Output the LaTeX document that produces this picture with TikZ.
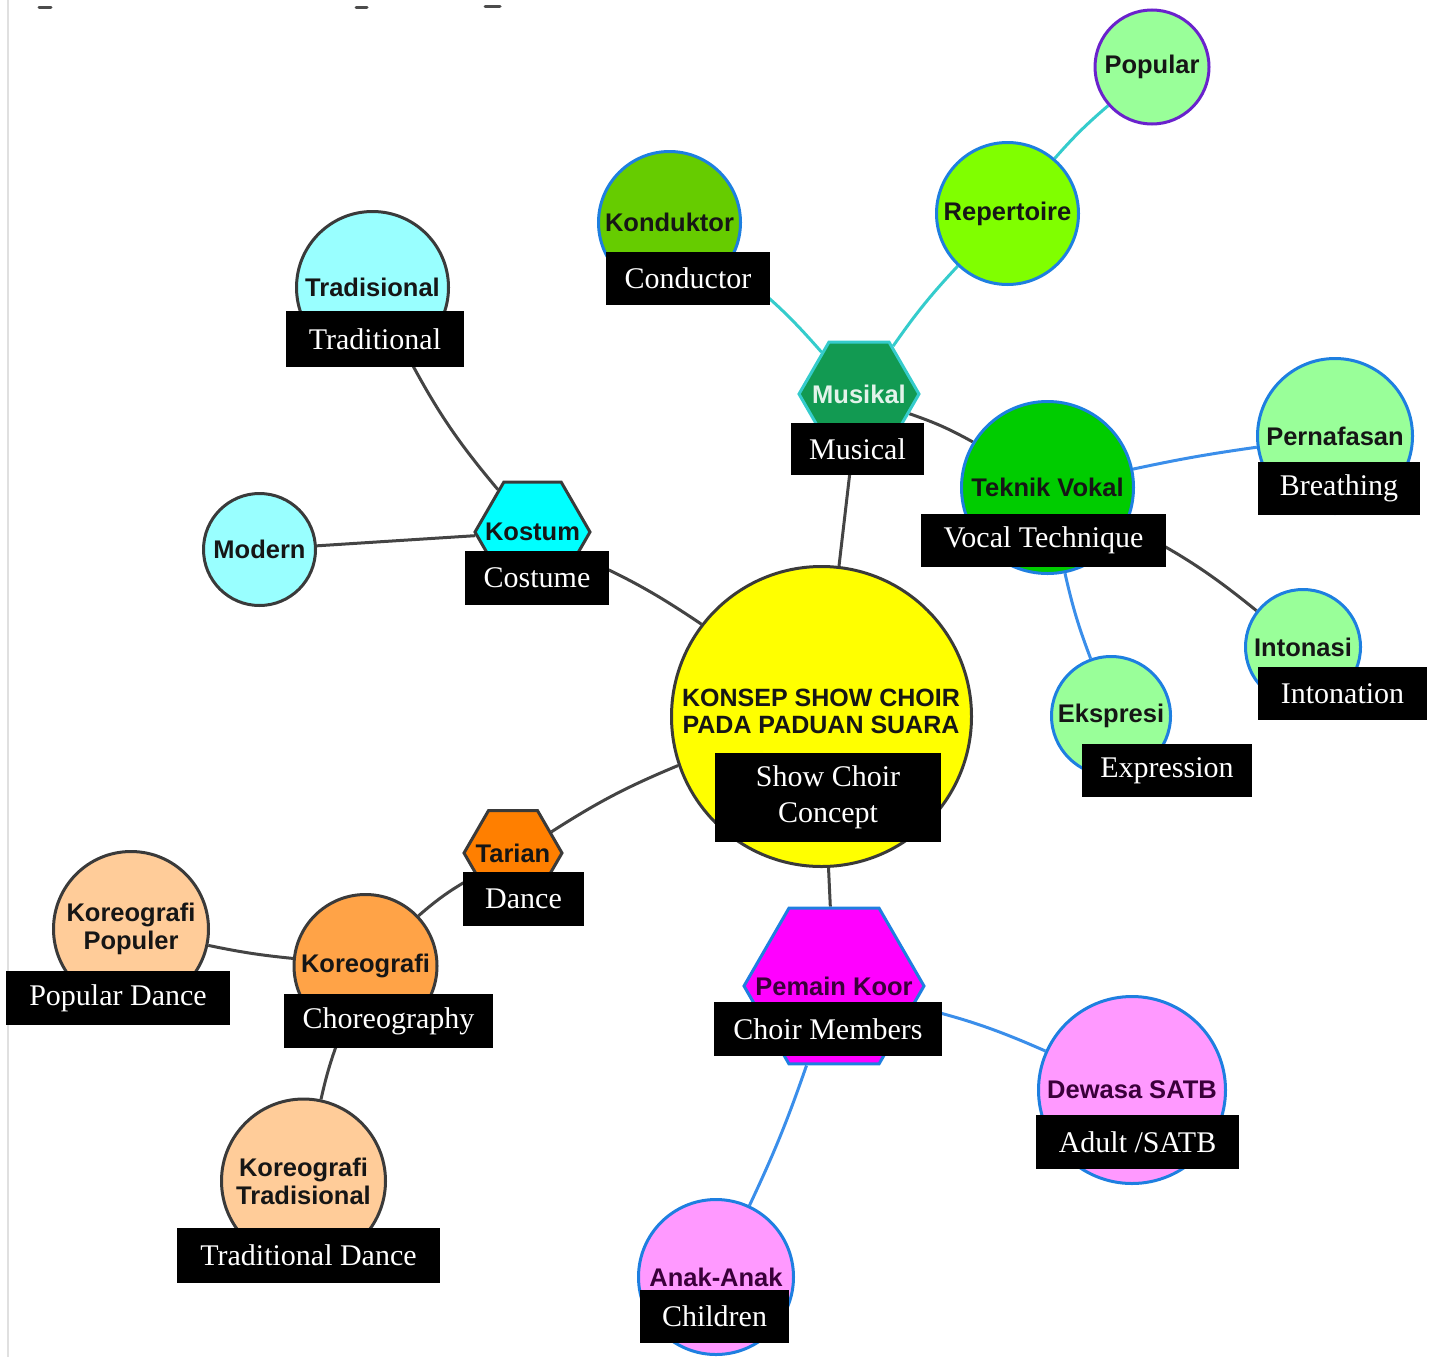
\documentclass[tikz,border=0pt]{standalone}
\usepackage{fontspec}
\setmainfont{Liberation Serif}
\newfontfamily\nodefont{Liberation Sans}
\usetikzlibrary{shapes.geometric,backgrounds}
\definecolor{txtdark}{HTML}{161616}
\definecolor{linegray}{HTML}{444444}
\definecolor{lineteal}{HTML}{35CCCC}
\definecolor{lineblue}{HTML}{3A8EEA}
\definecolor{bordgray}{HTML}{3A3A3A}
\definecolor{bordblue}{HTML}{1E7FE0}
\definecolor{bordpurple}{HTML}{6A22CC}
\definecolor{cyellow}{HTML}{FFFF00}
\definecolor{cmusikal}{HTML}{129A52}
\definecolor{ckond}{HTML}{66CC00}
\definecolor{crep}{HTML}{80FF00}
\definecolor{clgreen}{HTML}{99FF99}
\definecolor{cvokal}{HTML}{00CC00}
\definecolor{ccyan}{HTML}{00FFFF}
\definecolor{clcyan}{HTML}{99FFFF}
\definecolor{corange}{HTML}{FF7F00}
\definecolor{corange2}{HTML}{FFA347}
\definecolor{cpeach}{HTML}{FFCC99}
\definecolor{cmagenta}{HTML}{FF00FF}
\definecolor{cpink}{HTML}{FF99FF}
\definecolor{txtmag}{HTML}{3A003A}
\tikzset{
  bub/.style={circle, line width=3pt, inner sep=0pt, text=txtdark, align=center,
    font=\nodefont\bfseries\fontsize{25.5}{28}\selectfont},
  hexa/.style={regular polygon, regular polygon sides=6, line width=3pt, inner sep=0pt},
  hextext/.style={inner sep=0pt, text=txtdark, align=center,
    font=\nodefont\bfseries\fontsize{25.5}{28}\selectfont},
  lbl/.style={fill=black, text=white, inner sep=0pt, align=center,
    font=\fontsize{30}{36}\selectfont},
  gc/.style={draw=linegray, line width=3pt},
  tc/.style={draw=lineteal, line width=3pt},
  bc/.style={draw=lineblue, line width=3pt},
}
\begin{document}
\begin{tikzpicture}[x=1pt,y=-1pt]
\useasboundingbox (0,0) rectangle (1434,1357);
% faint frame remnants
\draw[line width=1.5pt, color=black!12] (8,0) -- (8,1357);
\draw[line width=3pt, color=black!70, line cap=round] (39,7) -- (51,7);
\draw[line width=3pt, color=black!70, line cap=round] (356,7) -- (367,7);
\draw[line width=3pt, color=black!70, line cap=round] (485,6) -- (500,6);

% central node
\node[bub, fill=cyellow, draw=bordgray, minimum size=300pt] (ctr) at (821.5,716.5) {};
\node[font=\nodefont\bfseries\fontsize{25}{27}\selectfont, text=txtdark, align=center] (ctrT) at (821,711) {KONSEP SHOW CHOIR\\PADA PADUAN SUARA};

% Musikal branch
\node[hexa, fill=cmusikal, draw=lineteal, minimum size=120pt,
  label={[hextext, text=white!88!cmusikal]center:Musikal}] (mus) at (859,394) {};
\node[bub, fill=ckond, draw=bordblue, minimum size=142pt] (kon) at (669.5,222.5) {Konduktor};
\node[bub, fill=crep, draw=bordblue, minimum size=142pt] (rep) at (1007.5,213.5) {Repertoire};
\node[bub, fill=clgreen, draw=bordpurple, minimum size=114pt] (pop) at (1152,67) {Popular};
\node[bub, fill=cvokal, draw=bordblue, minimum size=172pt] (tv) at (1047.5,487.5) {Teknik Vokal};
\node[bub, fill=clgreen, draw=bordblue, minimum size=155pt] (nap) at (1335,436) {Pernafasan};
\node[bub, fill=clgreen, draw=bordblue, minimum size=115pt] (ton) at (1303,647) {Intonasi};
\node[bub, fill=clgreen, draw=bordblue, minimum size=119pt] (eks) at (1111,716) {Ekspresi};

% Kostum branch
\node[hexa, fill=ccyan, draw=bordgray, minimum size=115pt,
  label={[hextext]center:Kostum}] (kos) at (532.5,532) {};
\node[bub, fill=clcyan, draw=bordgray, minimum size=152pt] (trad) at (372.5,287.5) {Tradisional};
\node[bub, fill=clcyan, draw=bordgray, minimum size=112pt] (mod) at (259.5,549.5) {Modern};

% Tarian branch
\node[hexa, fill=corange, draw=bordgray, minimum size=98pt,
  label={[hextext]center:Tarian}] (tar) at (513,853) {};
\node[bub, fill=corange2, draw=bordgray, minimum size=143pt] (kor) at (365.5,966) {Koreografi};
\node[bub, fill=cpeach, draw=bordgray, minimum size=155pt] (kpop) at (131,929) {Koreografi\\Populer};
\node[bub, fill=cpeach, draw=bordgray, minimum size=164pt] (ktrad) at (303.5,1181) {Koreografi\\Tradisional};

% Pemain Koor branch
\node[hexa, fill=cmagenta, draw=bordblue, minimum size=180pt,
  label={[hextext, text=txtmag]center:Pemain Koor}] (pem) at (834,986) {};
\node[bub, fill=cpink, draw=bordblue, minimum size=187pt, text=txtmag] (dew) at (1132,1090) {Dewasa SATB};
\node[bub, fill=cpink, draw=bordblue, minimum size=155pt, text=txtmag] (anak) at (716,1277) {Anak-Anak};

% connectors
\begin{scope}[on background layer]
\draw[gc] (ctr) -- (mus);
\draw[tc] (mus) to[bend right=6] (kon);
\draw[tc] (mus) to[bend left=4] (rep);
\draw[tc] (rep) to[bend left=4] (pop);
\draw[gc] (mus) to[bend left=5] (tv);
\draw[bc] (tv) to[bend left=2] (nap);
\draw[gc] (tv) to[bend left=6] (ton);
\draw[bc] (tv) to[bend right=4] (eks);
\draw[gc] (ctr) to[bend right=5] (kos);
\draw[gc] (kos) to[bend left=6] (trad);
\draw[gc] (kos) -- (mod);
\draw[gc] (ctr) to[bend right=5] (tar);
\draw[gc] (tar) to[bend right=6] (kor);
\draw[gc] (kor) to[bend left=3] (kpop);
\draw[gc] (kor) to[bend right=4] (ktrad);
\draw[gc] (ctr) -- (pem);
\draw[bc] (pem) to[bend left=5] (dew);
\draw[bc] (pem) to[bend left=3] (anak);
\end{scope}

% English labels
\node[lbl, minimum width=226pt, minimum height=89pt] (ctrL) at (828,797.5) {Show Choir\\Concept};
\node[lbl, minimum width=164pt, minimum height=53pt] (konL) at (688,278.5) {Conductor};
\node[lbl, minimum width=133pt, minimum height=52pt] (musL) at (857.5,449) {Musical};
\node[lbl, minimum width=245pt, minimum height=53pt] (tvL) at (1043.5,540.5) {Vocal Technique};
\node[lbl, minimum width=162pt, minimum height=53pt] (napL) at (1339,488.5) {Breathing};
\node[lbl, minimum width=169pt, minimum height=53pt] (tonL) at (1342.5,693.5) {Intonation};
\node[lbl, minimum width=170pt, minimum height=53pt] (eksL) at (1167,770.5) {Expression};
\node[lbl, minimum width=144pt, minimum height=54pt] (kosL) at (537,578) {Costume};
\node[lbl, minimum width=178pt, minimum height=56pt] (tradL) at (375,339) {Traditional};
\node[lbl, minimum width=121pt, minimum height=54pt] (tarL) at (523.5,899) {Dance};
\node[lbl, minimum width=209pt, minimum height=54pt] (korL) at (388.5,1021) {Choreography};
\node[lbl, minimum width=224pt, minimum height=54pt] (kpopL) at (118,998) {Popular Dance};
\node[lbl, minimum width=263pt, minimum height=55pt] (ktradL) at (308.5,1255.5) {Traditional Dance};
\node[lbl, minimum width=228pt, minimum height=54pt] (pemL) at (828,1029) {Choir Members};
\node[lbl, minimum width=203pt, minimum height=54pt] (dewL) at (1137.5,1142) {Adult /SATB};
\node[lbl, minimum width=149pt, minimum height=53pt] (anakL) at (714.5,1316.5) {Children};
\end{tikzpicture}
\end{document}
